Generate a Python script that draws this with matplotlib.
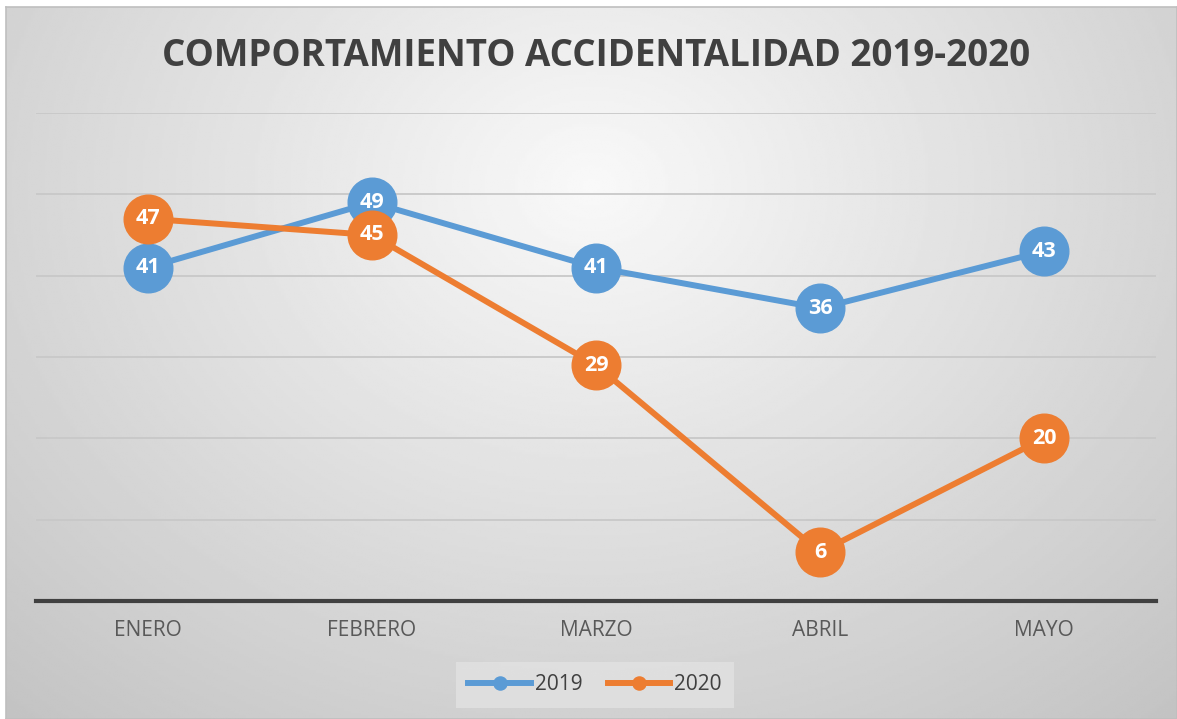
import numpy as np
import matplotlib.pyplot as plt

MESES = ["ENERO", "FEBRERO", "MARZO", "ABRIL", "MAYO"]
Y2019 = [41, 49, 41, 36, 43]
Y2020 = [47, 45, 29, 6, 20]
TITULO = "COMPORTAMIENTO ACCIDENTALIDAD 2019-2020"

AZUL = "#5B9BD5"
NARANJA = "#ED7D31"

plt.rcParams['font.family'] = ['Open Sans', 'DejaVu Sans']

fig = plt.figure(figsize=(11.77, 7.19), dpi=100)

# fondo con degradado radial
bg = fig.add_axes([6 / 1177, 0, 1 - 6 / 1177, 1 - 7 / 719], zorder=-10)
yy, xx = np.mgrid[0:1:300j, 0:1:500j]
r = np.sqrt(((xx - 0.5) * 1.0) ** 2 + ((yy - 0.25) * 0.75) ** 2)
r = np.clip(r / 0.75, 0, 1)
val = 0.975 - 0.21 * r
bg.imshow(val, cmap="gray", vmin=0, vmax=1, aspect="auto", extent=[0, 1, 1, 0])
bg.set_xlim(0, 1)
bg.set_ylim(1, 0)
bg.set_xticks([])
bg.set_yticks([])
for s in bg.spines.values():
    s.set_color("#bfbfbf")
    s.set_linewidth(1.2)

ax = fig.add_axes([36 / 1177, 1 - 601 / 719, 1120 / 1177, 488 / 719])
ax.patch.set_alpha(0)
x = np.arange(len(MESES))

ax.plot(x, Y2019, color=AZUL, lw=4.3, marker="o", ms=35, mec=AZUL, label="2019", zorder=3)
ax.plot(x, Y2020, color=NARANJA, lw=4.3, marker="o", ms=35, mec=NARANJA, label="2020", zorder=4)

for i in range(len(MESES)):
    ax.text(x[i], Y2019[i], str(Y2019[i]), ha="center", va="center", color="white",
            fontsize=15.5, fontweight="bold", zorder=5)
    ax.text(x[i], Y2020[i], str(Y2020[i]), ha="center", va="center", color="white",
            fontsize=15.5, fontweight="bold", zorder=6)

ax.set_xlim(-0.5, len(MESES) - 0.5)
ax.set_ylim(0, 60)
ax.set_yticks(np.arange(0, 61, 10))
ax.yaxis.grid(True, color="#c8c8c8", lw=1.3)
ax.set_axisbelow(True)
ax.tick_params(axis="y", left=False, labelleft=False)
ax.tick_params(axis="x", length=0, pad=14, labelsize=15, labelcolor="#595959")
ax.set_xticks(x)
ax.set_xticklabels(MESES)
for s in ["left", "right", "top"]:
    ax.spines[s].set_visible(False)
ax.spines["bottom"].set_color("#404040")
ax.spines["bottom"].set_linewidth(3)

fig.text(596 / 1177, 1 - 56 / 719, TITULO, ha="center", va="center", fontsize=26.5,
         fontweight="bold", color="#404040")

leg = fig.legend(loc="center", bbox_to_anchor=(595 / 1177, 1 - 685 / 719), ncol=2,
                 fontsize=15, frameon=True, fancybox=False, markerscale=0.27,
                 handlelength=3.0, columnspacing=1.2, handletextpad=0.2,
                 borderpad=0.6)
leg.get_frame().set_facecolor("#e2e2e2")
leg.get_frame().set_edgecolor("none")
for t in leg.get_texts():
    t.set_color("#404040")

fig.savefig("out.png", dpi=100)
